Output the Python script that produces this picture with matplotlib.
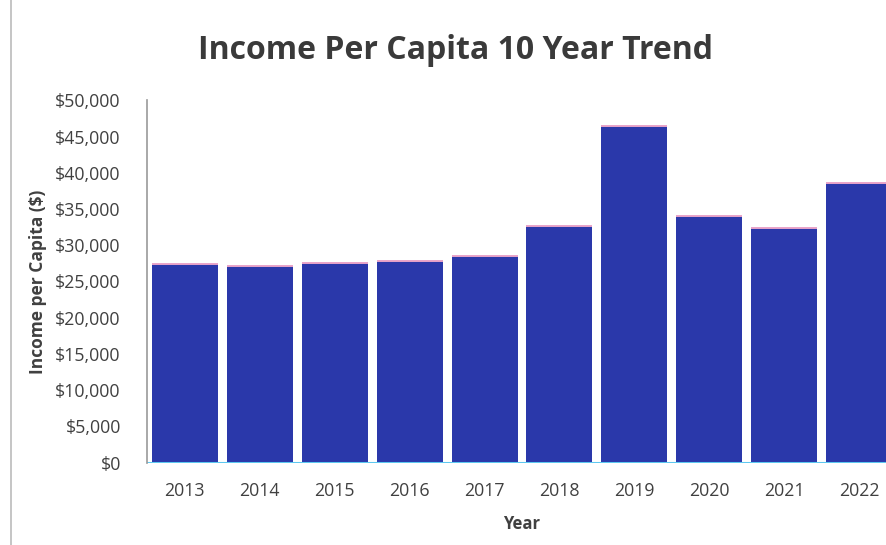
# Income per capita, 10 year trend - bar chart
import matplotlib.pyplot as plt
from matplotlib.ticker import FuncFormatter

years = ['2013', '2014', '2015', '2016', '2017', '2018', '2019', '2020', '2021', '2022']
income = [27400, 27100, 27500, 27800, 28500, 32600, 46500, 34000, 32400, 38600]
yticks = [0, 5000, 10000, 15000, 20000, 25000, 30000, 35000, 40000, 45000, 50000]

bar_color = '#2A38AA'
text_color = '#404040'

plt.rcParams['font.family'] = ['Open Sans', 'DejaVu Sans']

fig = plt.figure(figsize=(8.87, 5.45), dpi=100)
ax = fig.add_axes([0.166, 0.151, 0.845, 0.665])

x = range(len(years))
w = 0.88
ax.bar(x, income, width=w, color=bar_color)
# thin pinkish rim on top of each bar, as in the scan
ax.hlines(income, [i - w / 2 for i in x], [i + w / 2 for i in x], color='#E9A3C9', lw=1.4)
ax.axhline(0, color='#5EC8F0', lw=2.2)

ax.set_xlim(-0.5, len(years) - 0.5)
ax.set_ylim(0, 50000)
ax.set_yticks(yticks)
ax.yaxis.set_major_formatter(FuncFormatter(lambda v, p: f'${v:,.0f}'))
ax.set_xticks(list(x))
ax.set_xticklabels(years)
ax.tick_params(axis='both', length=0, labelsize=12.8, colors=text_color)
ax.tick_params(axis='y', pad=19)
ax.tick_params(axis='x', pad=14)

for s in ['top', 'right', 'bottom']:
    ax.spines[s].set_visible(False)
ax.spines['left'].set_color('#999999')
ax.spines['left'].set_linewidth(1.2)

ax.set_xlabel('Year', fontsize=12, fontweight='bold', color=text_color, labelpad=11)
ax.set_ylabel('Income per Capita ($)', fontsize=12.5, fontweight='bold', color=text_color, labelpad=6)

fig.text(0.513, 0.908, 'Income Per Capita 10 Year Trend', ha='center', va='center',
         fontsize=23, fontweight='bold', color='#3a3a3a')

# faint outer frame of the scanned chart
fig.add_artist(plt.Line2D([0.012, 0.012], [0.0, 1.0], color='#bbbbbb', lw=1.2))

fig.savefig('out.png', dpi=100)
